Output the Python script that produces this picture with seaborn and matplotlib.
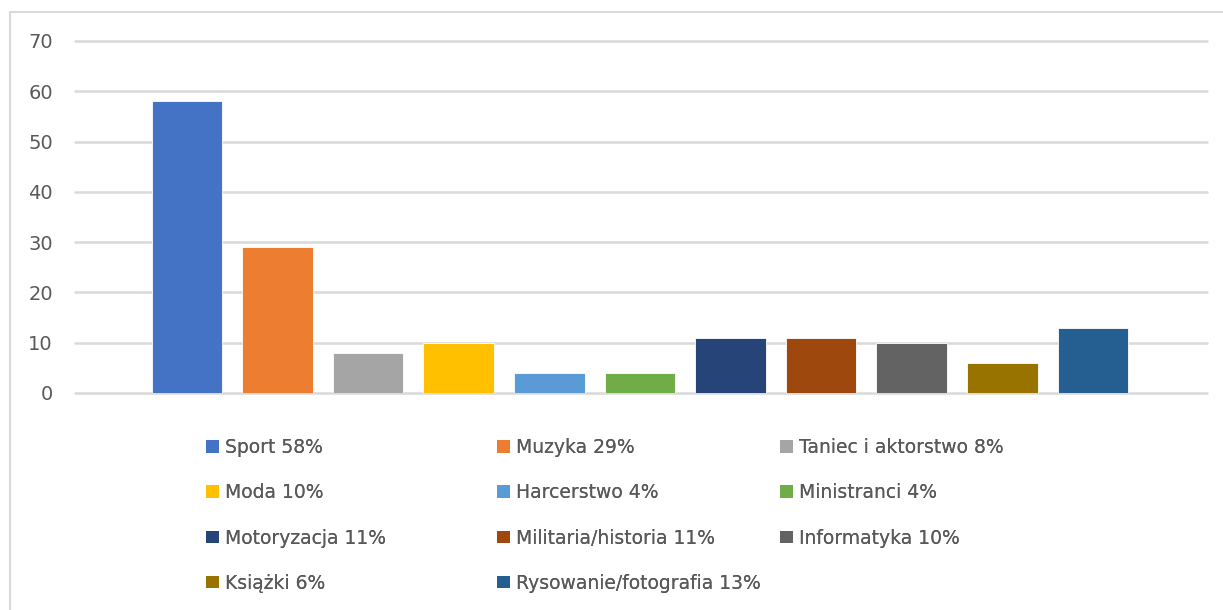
import matplotlib
matplotlib.use("Agg")
import matplotlib.pyplot as plt
import seaborn as sns
import pandas as pd
from matplotlib.patches import Rectangle, Patch

# Dane
categories = ["Sport", "Muzyka", "Taniec i aktorstwo", "Moda", "Harcerstwo", "Ministranci",
              "Motoryzacja", "Militaria/historia", "Informatyka", "Książki", "Rysowanie/fotografia"]
values = [58, 29, 8, 10, 4, 4, 11, 11, 10, 6, 13]
percent_labels = ["58%", "29%", "8%", "10%", "4%", "4%", "11%", "11%", "10%", "6%", "13%"]
colors = ["#4472C4", "#ED7D31", "#A5A5A5", "#FFC000", "#5B9BD5", "#70AD47",
          "#264478", "#9E480E", "#636363", "#997300", "#255E91"]

sns.set_theme(style="white")
plt.rcParams["font.family"] = ["DejaVu Sans"]

df = pd.DataFrame({"kategoria": categories, "wartosc": values})

fig = plt.figure(figsize=(12.23, 6.10), dpi=100, facecolor="white")
ax = fig.add_axes([75 / 1223, 1 - 393 / 610, 1132 / 1223, 352 / 610])

sns.barplot(data=df, x="kategoria", y="wartosc", hue="kategoria", palette=colors,
            dodge=False, legend=False, width=0.78, saturation=1, ax=ax,
            edgecolor="white", linewidth=0.6)

ax.set_xlim(-1.236, 11.26)
ax.set_ylim(0, 70)
ax.set_yticks(range(0, 80, 10))
ax.yaxis.grid(True, color="#D9D9D9", linewidth=1.8)
for gl in ax.get_ygridlines():
    gl.set_clip_on(False)
ax.set_axisbelow(True)
ax.set_xticks([])
ax.set_xlabel("")
ax.set_ylabel("")
for s in ax.spines.values():
    s.set_visible(False)
ax.tick_params(axis="y", length=0, labelsize=14, labelcolor="#595959", pad=16)

# Legenda w trzech kolumnach (kolejność wierszami)
handles = [Patch(facecolor=c, edgecolor="none") for c in colors]
labels = [f"{c} {p}" for c, p in zip(categories, percent_labels)]
col_x = [206, 497, 780]
for i in range(3):
    leg = fig.legend(handles[i::3], labels[i::3], loc="upper left",
                     bbox_to_anchor=(col_x[i] / 1223, 1 - 438 / 610),
                     frameon=False, fontsize=13.5, labelcolor="#595959",
                     handlelength=0.69, handleheight=0.65, handletextpad=0.32,
                     labelspacing=1.40, borderpad=0, borderaxespad=0)
    fig.add_artist(leg)

# Ramka wykresu
fig.add_artist(Rectangle((10 / 1223, -0.2), 2.0, 1.2 - 12 / 610, transform=fig.transFigure,
                         fill=False, edgecolor="#D9D9D9", linewidth=1.5, clip_on=False))

fig.savefig("out.png", dpi=100, facecolor=fig.get_facecolor())
